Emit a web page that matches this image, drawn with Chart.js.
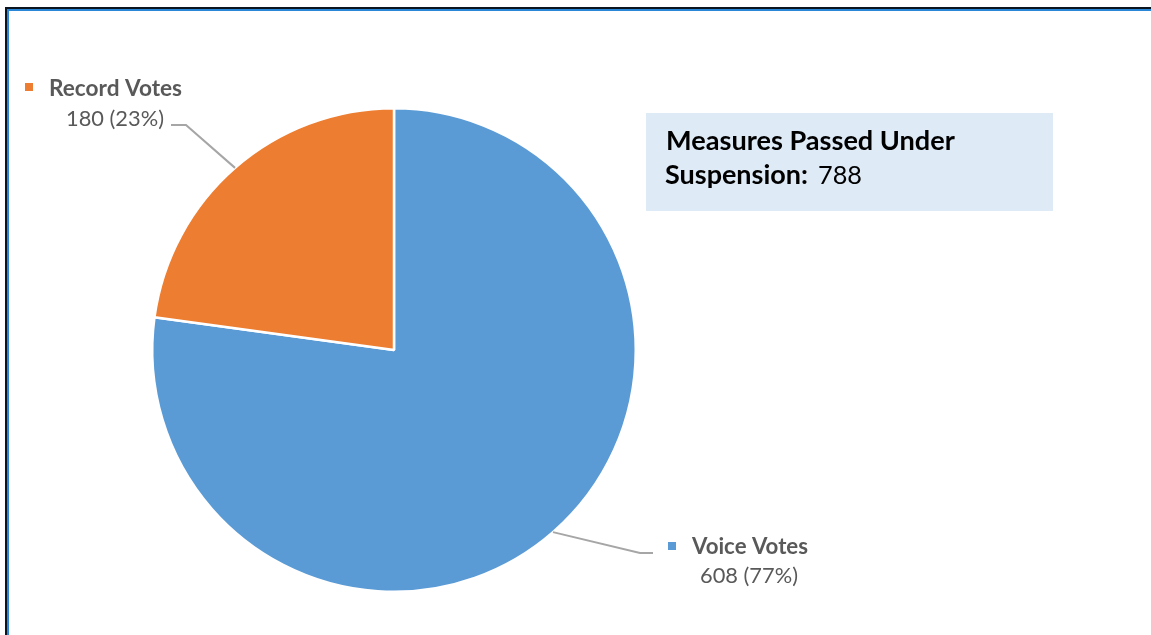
<!DOCTYPE html>
<html lang="en">
<head>
<meta charset="UTF-8">
<title>Measures Passed Under Suspension</title>
<script src="https://cdn.jsdelivr.net/npm/chart.js@4/dist/chart.umd.min.js"></script>
<style>
    html, body { margin: 0; padding: 0; background: #ffffff; overflow: hidden; }
    #wrap { position: relative; width: 1151px; height: 635px; }
    canvas { display: block; }
</style>
</head>
<body>
<div id="wrap">
    <canvas id="pieVotos" width="1151" height="635"></canvas>
</div>

<script>
// vote counts per type
const categories = ['Voice Votes', 'Record Votes'];
const votes = [608, 180];
const sliceColors = ['#5B9BD5', '#ED7D31'];
const boxTitle = ['Measures Passed Under', 'Suspension:'];

const total = votes.reduce((a, b) => a + b, 0);

// where each callout sits: elbow of the leader line, its end, and the text block
const callouts = [
    { elbow: [640, 553], end: [653, 553], square: [668, 542], name: [692, 554, 116], value: [700, 583, 98] },
    { elbow: [186, 125], end: [171, 125], square: [25, 83], name: [49, 96, 133], value: [66, 126, 98] }
];

const fontFamily = 'Lato, "Open Sans", "Liberation Sans", sans-serif';

// draw text starting at x, baseline y, sized so it spans the given width
function fitText(ctx, text, x, y, width, weight, color) {
    ctx.font = weight + ' 100px ' + fontFamily;
    const w100 = ctx.measureText(text).width;
    const size = 100 * width / w100;
    ctx.font = weight + ' ' + size.toFixed(2) + 'px ' + fontFamily;
    ctx.fillStyle = color;
    ctx.textAlign = 'left';
    ctx.textBaseline = 'alphabetic';
    ctx.fillText(text, x, y);
    return size;
}

const moldura = {
    id: 'moldura',
    beforeDraw(chart) {
        const ctx = chart.ctx;
        ctx.save();
        ctx.fillStyle = '#ffffff';
        ctx.fillRect(0, 0, chart.width, chart.height);
        // frame lines on top and left
        ctx.fillStyle = '#0b1520';
        ctx.fillRect(5, 7, chart.width - 5, 2);
        ctx.fillRect(5, 7, 2, chart.height - 7);
        ctx.fillStyle = '#2a86d6';
        ctx.fillRect(7, 9, chart.width - 7, 2);
        ctx.fillRect(7, 9, 2, chart.height - 9);

        // summary box
        ctx.fillStyle = '#DEEAF6';
        ctx.fillRect(646, 113, 407, 98);
        fitText(ctx, boxTitle[0], 666, 150, 289, 'bold', '#000000');
        fitText(ctx, boxTitle[1], 665, 184, 143, 'bold', '#000000');
        fitText(ctx, String(total), 818, 184, 44, 'normal', '#000000');
        ctx.restore();
    },
    afterDatasetsDraw(chart) {
        const ctx = chart.ctx;
        const arcs = chart.getDatasetMeta(0).data;
        ctx.save();
        arcs.forEach((arc, i) => {
            const c = callouts[i];
            const mid = (arc.startAngle + arc.endAngle) / 2;
            const px = arc.x + Math.cos(mid) * arc.outerRadius;
            const py = arc.y + Math.sin(mid) * arc.outerRadius;

            ctx.strokeStyle = '#a6a6a6';
            ctx.lineWidth = 2;
            ctx.beginPath();
            ctx.moveTo(px, py);
            ctx.lineTo(c.elbow[0], c.elbow[1]);
            ctx.lineTo(c.end[0], c.end[1]);
            ctx.stroke();

            ctx.fillStyle = sliceColors[i];
            ctx.fillRect(c.square[0], c.square[1], 8, 8);

            const pct = Math.round(votes[i] / total * 100);
            fitText(ctx, categories[i], c.name[0], c.name[1], c.name[2], 'bold', '#595959');
            fitText(ctx, votes[i] + ' (' + pct + '%)', c.value[0], c.value[1], c.value[2], 'normal', '#595959');
        });
        ctx.restore();
    }
};

new Chart(document.getElementById('pieVotos'), {
    type: 'pie',
    data: {
        labels: categories,
        datasets: [{
            data: votes,
            backgroundColor: sliceColors,
            borderColor: '#ffffff',
            borderWidth: 2.5
        }]
    },
    options: {
        responsive: false,
        animation: false,
        layout: { padding: { left: 151, right: 514, top: 107, bottom: 42 } },
        plugins: {
            legend: { display: false },
            tooltip: { enabled: false }
        }
    },
    plugins: [moldura]
});
</script>
</body>
</html>
